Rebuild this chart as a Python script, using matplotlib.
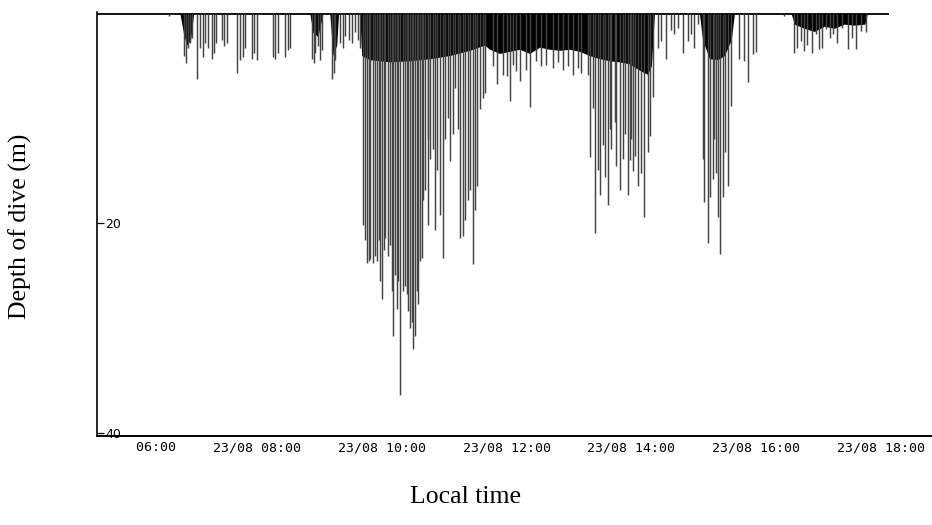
import matplotlib
matplotlib.use('Agg')
from matplotlib import pyplot as plt

## Dive data: time in decimal hours (23/08), maximum depth in metres
dive_time = [
    6.59, 6.83, 6.86, 6.90, 6.93, 6.96, 7.04, 7.09, 7.14, 7.17, 7.22, 7.28, 7.31, 7.34,
    7.44, 7.47, 7.52, 7.68, 7.73, 7.78, 7.81, 7.92, 7.95, 8.00, 8.26, 8.30, 8.34,
    8.45, 8.50, 8.53, 8.88, 8.91, 8.94, 8.98, 9.01, 9.04, 9.20, 9.23, 9.26,
    9.33, 9.38, 9.42, 9.47, 9.52, 9.57, 9.62, 9.66,
    # first deep bout
    9.70, 9.73, 9.76, 9.79, 9.82, 9.86, 9.89, 9.92, 9.95, 9.98, 10.00, 10.03, 10.06,
    10.10, 10.13, 10.16, 10.18, 10.21, 10.24, 10.27, 10.30, 10.34, 10.37, 10.40, 10.43,
    10.45, 10.48, 10.50, 10.53, 10.56, 10.59, 10.62, 10.64, 10.67, 10.70, 10.74, 10.75,
    10.78, 10.82, 10.85, 10.88, 10.93, 10.98, 11.01, 11.06, 11.09, 11.14, 11.18, 11.23,
    11.26, 11.31, 11.34, 11.38, 11.42, 11.46, 11.49, 11.52, 11.57, 11.62, 11.66,
    # midday shallow diving
    11.78, 11.84, 11.94, 12.00, 12.05, 12.10, 12.16, 12.21, 12.32, 12.38, 12.48, 12.56,
    12.64, 12.74, 12.82, 12.90, 12.98, 13.06, 13.14, 13.20, 13.30,
    # second deep bout
    13.33, 13.38, 13.41, 13.46, 13.50, 13.54, 13.57, 13.62, 13.65, 13.68, 13.73, 13.76,
    13.81, 13.86, 13.90, 13.94, 13.97, 14.00, 14.03, 14.06, 14.11, 14.16, 14.21, 14.26,
    14.30, 14.35,
    14.42, 14.48, 14.56, 14.64, 14.69, 14.74, 14.82, 14.90, 14.96, 15.01, 15.06,
    # third deep bout
    15.14, 15.17, 15.22, 15.26, 15.30, 15.33, 15.36, 15.39, 15.42, 15.46, 15.50, 15.55,
    15.60, 15.73, 15.81, 15.86, 15.94, 16.00,
    # late afternoon
    16.45, 16.61, 16.66, 16.72, 16.77, 16.82, 16.90, 16.96, 17.01, 17.06, 17.12, 17.18,
    17.23, 17.30, 17.38, 17.47, 17.54, 17.60, 17.68, 17.76,
]
dive_depth = [
    0.2, 4.0, 4.7, 3.3, 2.8, 2.3, 6.2, 3.3, 4.1, 2.8, 3.3, 4.3, 3.8, 2.8,
    2.5, 3.1, 2.8, 5.7, 4.4, 4.1, 3.3, 4.3, 3.8, 4.4, 4.1, 4.3, 3.8,
    4.1, 3.5, 3.3, 4.3, 4.7, 3.8, 3.1, 4.4, 3.5, 6.2, 5.7, 4.4,
    2.8, 3.3, 2.1, 2.5, 2.8, 1.8, 2.5, 3.3,
    20.2, 21.6, 23.8, 23.6, 23.4, 23.8, 23.1, 23.6, 21.6, 25.5, 27.2, 22.6, 21.4,
    23.1, 22.1, 26.5, 30.8, 25.0, 28.2, 25.5, 36.4, 26.5, 26.0, 26.8, 28.4,
    30.0, 29.4, 32.0, 30.8, 26.5, 27.7, 23.6, 23.3, 17.8, 16.8, 12.0, 20.2,
    13.9, 12.9, 20.7, 14.9, 19.2, 23.3, 12.0, 10.0, 14.1, 11.5, 7.1, 11.0,
    21.4, 21.2, 19.7, 17.8, 16.8, 23.9, 18.7, 16.5, 9.1, 8.1, 7.6,
    5.0, 6.7, 5.9, 6.0, 8.3, 4.9, 5.5, 6.4, 5.4, 8.9, 4.5, 5.0,
    4.9, 5.2, 4.6, 5.4, 5.0, 5.9, 5.2, 5.7, 5.9,
    13.7, 9.0, 20.9, 14.9, 17.3, 12.5, 15.6, 18.3, 11.0, 12.9, 10.3, 14.5,
    16.8, 13.9, 11.5, 17.3, 14.0, 12.0, 15.0, 13.6, 16.5, 15.2, 19.4, 13.2,
    11.7, 8.0,
    3.3, 2.6, 4.3, 1.6, 1.9, 1.4, 3.8, 2.6, 1.9, 3.3, 1.0,
    13.9, 18.0, 21.9, 17.5, 15.8, 12.0, 15.2, 19.4, 22.9, 17.5, 13.2, 16.5,
    8.8, 4.3, 4.5, 6.5, 3.9, 3.7,
    0.2, 3.8, 3.3, 2.6, 3.6, 3.0, 3.8, 1.9, 3.4, 3.3, 1.5, 2.3,
    1.9, 2.8, 1.4, 3.4, 2.3, 3.4, 1.7, 1.8,
]

## Dense shallow diving (solid black band)
band_time = [
    6.77, 6.83, 6.88, 6.94, 6.99, 8.85, 8.90, 8.98, 9.06, 9.17, 9.22, 9.28, 9.31,
    9.65, 9.68, 9.81, 10.13, 10.45, 10.77, 11.09, 11.41, 11.65, 11.73, 11.89, 12.05,
    12.21, 12.37, 12.53, 12.69, 12.85, 13.01, 13.17, 13.33, 13.49, 13.65, 13.81, 13.97,
    14.13, 14.26, 14.32, 14.37, 15.09, 15.14, 15.25, 15.38, 15.49, 15.60, 15.65,
    16.56, 16.61, 16.77, 16.93, 17.09, 17.25, 17.41, 17.57, 17.74, 17.78,
]
band_depth = [
    0, 2.0, 3.0, 2.5, 0, 0, 1.8, 2.2, 0, 0, 4.0, 3.0, 0,
    0, 4.0, 4.4, 4.6, 4.5, 4.3, 4.0, 3.5, 3.0, 3.4, 3.8, 3.6,
    3.4, 3.8, 3.2, 3.4, 3.5, 3.4, 3.6, 4.0, 4.3, 4.5, 4.6, 4.8,
    5.4, 5.8, 5.0, 0, 0, 2.5, 4.3, 4.4, 4.0, 2.5, 0,
    0, 1.0, 1.4, 1.7, 1.2, 1.4, 1.0, 1.1, 1.0, 0,
]

record_start = 5.44
record_end = 18.12

tick_hours = [6, 8, 10, 12, 14, 16, 18]
tick_labels = ['      06:00', '23/08 08:00', '23/08 10:00', '23/08 12:00',
               '23/08 14:00', '23/08 16:00', '23/08 18:00']


if __name__ == '__main__':

    fig = plt.figure(figsize=(9.32, 5.25), dpi=100)
    ax = fig.add_axes([0.104, 0.170, 0.895, 0.807])

    ## surface line, black band and individual dives
    ax.hlines(0, record_start, record_end, color='black', lw=1.3)
    ax.fill_between(band_time, 0, band_depth, color='black', lw=0)
    ax.vlines(dive_time, 0, dive_depth, color='#444444', lw=1.05)

    ax.set_xlim(5.44, 18.8)
    ax.set_ylim(40.3, -0.15)

    for s in ['top', 'right']:
        ax.spines[s].set_visible(False)
    ax.spines['left'].set_linewidth(1.2)
    ax.spines['bottom'].set_linewidth(1.4)

    ax.set_yticks([20, 40])
    ax.set_yticklabels(['20', '40'], fontsize=9, family='DejaVu Sans')
    ax.tick_params(axis='y', direction='in', length=5, width=0.9, pad=-6)
    for lab in ax.get_yticklabels():
        lab.set_horizontalalignment('left')

    ax.set_xticks(tick_hours)
    ax.set_xticklabels(tick_labels, fontsize=9.5, family='DejaVu Sans Mono')
    ax.tick_params(axis='x', length=0, pad=4)

    fig.text(0.5, 0.053, 'Local time', ha='center', va='center',
             fontsize=18.5, family='Liberation Serif')
    fig.text(0.022, 0.569, 'Depth of dive (m)', ha='center', va='center',
             rotation=90, fontsize=18.5, family='Liberation Serif')

    fig.savefig('out.png', dpi=100)
